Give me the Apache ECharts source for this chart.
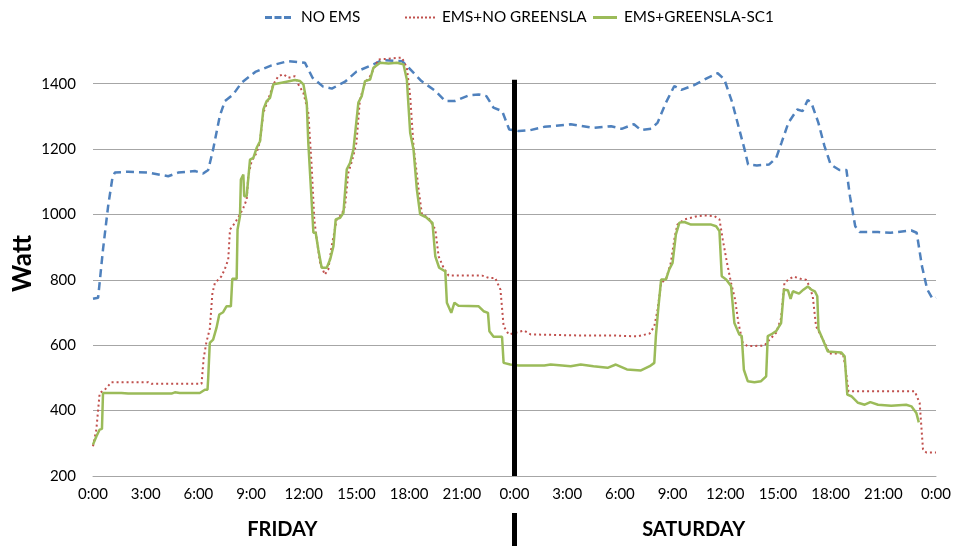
<!DOCTYPE html>
<html><head><meta charset="utf-8">
<script src="https://cdn.jsdelivr.net/npm/echarts@6/dist/echarts.min.js"></script>
<style>html,body{margin:0;padding:0;background:#fff}#c{width:954px;height:546px}</style>
</head><body><div id="c"></div><script>
// hours since Friday 0:00, watts
const seriesNames = ['NO EMS', 'EMS+NO GREENSLA', 'EMS+GREENSLA-SC1'];
const xTickLabels = ['0:00','3:00','6:00','9:00','12:00','15:00','18:00','21:00','0:00','3:00','6:00','9:00','12:00','15:00','18:00','21:00','0:00'];
const dayLabels = ['FRIDAY', 'SATURDAY'];
const separatorHour = 24;

const noEms = [[0,742],[0.29,745],[0.57,893],[0.86,1025],[1.1,1110],[1.24,1128],[2.0,1131],[3.14,1128],[4.28,1117],[4.85,1128],[5.8,1133],[6.27,1125],[6.56,1136],[6.84,1199],[7.22,1301],[7.51,1347],[7.98,1367],[8.46,1403],[9.24,1436],[10.17,1456],[11.1,1469],[12.07,1464],[12.5,1418],[13.1,1391],[13.6,1385],[14.35,1406],[15.0,1437],[15.97,1459],[16.45,1472],[17.6,1469],[17.97,1449],[18.7,1408],[19.49,1378],[20.06,1347],[20.6,1347],[21.4,1364],[21.96,1367],[22.4,1362],[22.8,1327],[23.3,1316],[23.7,1260],[24.24,1255],[24.9,1258],[25.7,1268],[27.2,1276],[28.5,1265],[29.5,1270],[30.1,1262],[30.8,1276],[31.2,1258],[31.8,1262],[32.15,1281],[32.62,1342],[33.1,1393],[33.5,1381],[34.2,1395],[35.0,1418],[35.57,1432],[35.95,1413],[36.4,1342],[36.8,1260],[37.1,1199],[37.3,1153],[37.8,1150],[38.5,1153],[38.9,1173],[39.2,1219],[39.6,1281],[40.1,1321],[40.4,1316],[40.7,1350],[40.9,1342],[41.3,1281],[41.65,1209],[42.0,1153],[42.5,1136],[42.9,1136],[43.1,1056],[43.4,964],[43.65,946],[44.7,946],[45.4,944],[46.6,951],[46.9,944],[47.2,842],[47.5,771],[47.8,742],[48.0,745]];

const emsNoGreen = [[0,291],[0.19,342],[0.38,454],[0.67,464],[1.05,487],[3.14,487],[3.33,482],[6.18,482],[6.3,560],[6.46,610],[6.65,650],[6.8,760],[6.94,790],[7.3,810],[7.5,832],[7.7,862],[7.8,954],[8.08,974],[8.37,1000],[8.56,1020],[8.75,1046],[8.84,1117],[9.03,1163],[9.32,1189],[9.51,1224],[9.7,1311],[9.98,1352],[10.27,1398],[10.55,1423],[10.84,1429],[11.12,1418],[11.5,1423],[11.69,1398],[11.98,1372],[12.26,1311],[12.45,1148],[12.6,985],[12.74,923],[12.93,852],[13.2,816],[13.4,832],[13.59,903],[13.88,985],[14.16,1000],[14.35,1026],[14.54,1128],[14.77,1168],[15.0,1219],[15.2,1352],[15.49,1403],[15.78,1423],[15.97,1444],[16.25,1474],[17.59,1480],[17.87,1449],[18.06,1362],[18.25,1209],[18.54,1077],[18.73,1000],[19.1,990],[19.49,954],[19.68,872],[19.96,837],[20.25,813],[22.15,813],[22.53,806],[22.9,806],[23.2,770],[23.38,658],[23.67,633],[24.54,645],[24.92,633],[27.6,630],[29.5,630],[31.0,627],[31.7,636],[31.96,658],[32.15,709],[32.35,791],[32.62,801],[32.9,852],[33.13,934],[33.28,969],[33.67,985],[34.43,995],[34.81,997],[35.38,995],[35.67,985],[35.86,923],[36.1,852],[36.33,791],[36.56,740],[36.75,668],[37.0,607],[37.28,597],[38.23,599],[38.52,617],[38.9,638],[39.18,683],[39.37,791],[39.66,803],[39.9,810],[40.3,803],[40.6,800],[40.79,781],[40.98,750],[41.17,658],[41.46,628],[41.75,597],[41.94,575],[42.7,575],[42.83,536],[43.02,459],[46.79,459],[47.07,423],[47.26,281],[47.45,272],[48,272]];

const emsGreen = [[0,296],[0.19,321],[0.38,342],[0.51,344],[0.57,454],[1.62,454],[1.71,459],[2.0,452],[4.47,452],[4.66,456],[4.94,454],[6.08,454],[6.37,464],[6.52,464],[6.56,500],[6.65,607],[6.84,617],[7.03,653],[7.19,694],[7.41,701],[7.6,719],[7.85,719],[7.93,803],[8.18,803],[8.23,954],[8.37,995],[8.42,1107],[8.56,1122],[8.61,1056],[8.75,1056],[8.94,1168],[9.13,1173],[9.32,1204],[9.51,1224],[9.7,1321],[9.89,1347],[10.08,1357],[10.27,1398],[10.74,1403],[11.5,1411],[11.79,1408],[11.98,1398],[12.17,1342],[12.26,1219],[12.41,1077],[12.55,944],[12.68,944],[12.83,893],[13.02,837],[13.31,837],[13.5,862],[13.69,903],[13.82,985],[14.07,990],[14.26,1005],[14.45,1138],[14.64,1158],[14.83,1199],[15.11,1342],[15.3,1362],[15.49,1408],[15.78,1413],[15.97,1449],[16.35,1464],[16.83,1462],[17.3,1464],[17.68,1459],[17.87,1413],[18.06,1250],[18.25,1199],[18.44,1077],[18.63,1000],[19.0,990],[19.33,974],[19.49,872],[19.71,837],[20.06,826],[20.15,730],[20.4,699],[20.58,730],[20.81,721],[21.96,719],[22.24,704],[22.49,699],[22.57,643],[22.81,626],[23.29,626],[23.38,546],[23.76,541],[24.24,538],[25.7,538],[26.06,541],[27.2,536],[27.77,541],[28.5,536],[29.3,531],[29.77,541],[30.4,526],[31.2,523],[31.7,536],[31.96,546],[32.05,628],[32.19,714],[32.35,801],[32.62,801],[32.81,832],[33.0,852],[33.19,939],[33.39,975],[33.67,977],[34.05,969],[35.2,969],[35.48,964],[35.67,949],[35.8,811],[36.05,801],[36.33,781],[36.52,668],[36.8,633],[36.94,628],[37.06,525],[37.28,490],[37.66,487],[38.04,490],[38.33,505],[38.42,628],[38.61,633],[38.9,643],[39.18,668],[39.34,770],[39.57,768],[39.72,742],[39.85,765],[40.2,758],[40.45,770],[40.7,780],[40.9,770],[41.1,765],[41.24,750],[41.31,648],[41.56,617],[41.84,581],[42.6,578],[42.8,566],[42.95,449],[43.18,444],[43.56,424],[43.94,418],[44.26,426],[44.7,418],[45.45,415],[46.3,418],[46.6,413],[46.88,393],[47.02,364]];

const FONT = 'Lato, "Open Sans", sans-serif';
const legendIcons = [
  'path://M0,0h7v3h-7z M9.5,0h7v3h-7z M19,0h7v3h-7z',
  'path://M0,0h2v2h-2z M4,0h2v2h-2z M8,0h2v2h-2z M12,0h2v2h-2z M16,0h2v2h-2z M20,0h2v2h-2z M24,0h2v2h-2z M28,0h2v2h-2z',
  'path://M0,0h24v3h-24z'
];
const legendLefts = [260, 400, 588];
const legendWidths = [26, 30, 24];
const legendHeights = [3, 2, 3];
const legendPads = [5, 2, 2];
const legends = seriesNames.map((n, i) => ({
  top: 5, left: legendLefts[i], itemWidth: legendWidths[i], itemHeight: legendHeights[i],
  textStyle: { fontSize: 15.3, color: '#000', fontFamily: FONT, padding: [0, 0, 0, legendPads[i]] },
  data: [{ name: n, icon: legendIcons[i] }]
}));

const chart = echarts.init(document.getElementById('c'));
chart.setOption({
  animation: false,
  textStyle: { fontFamily: FONT },
  legend: legends,
  grid: { left: 93, right: 18, top: 51, bottom: 70, containLabel: false, outerBoundsMode: 'none' },
  xAxis: {
    type: 'value', min: 0, max: 48, interval: 3,
    axisLine: { show: true, lineStyle: { color: '#a6a6a6', width: 1 } },
    axisTick: { show: false },
    splitLine: { show: false },
    axisLabel: { margin: 11, fontSize: 15, color: '#000', fontFamily: FONT,
      formatter: v => xTickLabels[Math.round(v / 3)] }
  },
  yAxis: {
    type: 'value', min: 200, max: 1500, interval: 200,
    name: 'Watt', nameLocation: 'middle', nameGap: 57, nameMoveOverlap: false,
    nameTextStyle: { fontSize: 26, fontWeight: 'bold', color: '#000', fontFamily: FONT },
    axisLine: { show: false }, axisTick: { show: false },
    axisLabel: { margin: 17, fontSize: 15, color: '#000', fontFamily: FONT, showMaxLabel: false,
      formatter: v => String(v) },
    splitLine: { show: true, showMaxLine: false, lineStyle: { color: '#a6a6a6', width: 1 } }
  },
  series: [
    { name: seriesNames[0], type: 'line', data: noEms, symbol: 'none', showSymbol: false,
      lineStyle: { color: '#4F81BD', width: 2.5, type: [8, 5] }, itemStyle: { color: '#4F81BD' },
      markLine: { silent: true, symbol: ['none', 'none'], label: { show: false },
        lineStyle: { color: '#000', width: 5, type: 'solid' },
        data: [[{ coord: [separatorHour, 200] }, { coord: [separatorHour, 1412] }]] } },
    { name: seriesNames[1], type: 'line', data: emsNoGreen, symbol: 'none', showSymbol: false,
      lineStyle: { color: '#C0504D', width: 2, type: [2, 3] }, itemStyle: { color: '#C0504D' } },
    { name: seriesNames[2], type: 'line', data: emsGreen, symbol: 'none', showSymbol: false,
      lineStyle: { color: '#9BBB59', width: 2.5, type: 'solid' }, itemStyle: { color: '#9BBB59' } }
  ]
});
const sepX = chart.convertToPixel({ xAxisIndex: 0 }, separatorHour);
const fri = chart.convertToPixel({ xAxisIndex: 0 }, 10.78);
const sat = chart.convertToPixel({ xAxisIndex: 0 }, 34.2);
chart.setOption({
  graphic: [
    { type: 'rect', shape: { x: sepX - 2.5, y: 513, width: 5, height: 40 }, style: { fill: '#000' } },
    { type: 'text', x: fri, y: 530, style: { text: dayLabels[0], font: 'bold 20px ' + FONT, fill: '#000', textAlign: 'center', textVerticalAlign: 'middle' } },
    { type: 'text', x: sat, y: 530, style: { text: dayLabels[1], font: 'bold 20px ' + FONT, fill: '#000', textAlign: 'center', textVerticalAlign: 'middle' } }
  ]
});
</script></body></html>
